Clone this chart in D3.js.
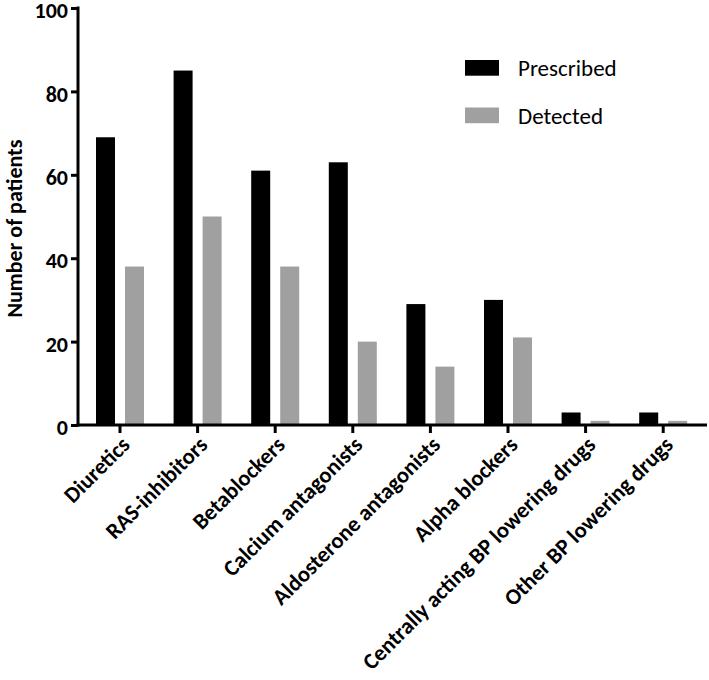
<!DOCTYPE html>
<html><head><meta charset="utf-8">
<script src="https://cdn.jsdelivr.net/npm/d3@7"></script>
<style>body{margin:0;background:#fff;} text{font-family:Carlito,Lato,"Open Sans",sans-serif;}</style>
</head><body><svg id="c" width="709" height="680"></svg>
<script>
const categories = ["Diuretics","RAS-inhibitors","Betablockers","Calcium antagonists","Aldosterone antagonists","Alpha blockers","Centrally acting BP lowering drugs","Other BP lowering drugs"];
const seriesNames = ["Prescribed","Detected"];
const prescribed = [69,85,61,63,29,30,3,3];
const detected = [38,50,38,20,14,21,1,1];
const yTicks = [0,20,40,60,80,100];
const colors = ["#000000","#a0a0a0"];

const svg = d3.select("#c");
const x0 = 78, y0 = 425;
const y = d3.scaleLinear().domain([0,100]).range([y0, 8]);
const x = d3.scaleBand().domain(categories).range([81.2, 702]).paddingInner(0).paddingOuter(0);
const bw = x.bandwidth();
const xs = d3.scaleBand().domain(seriesNames).range([bw/2-24, bw/2+24]).paddingInner(0.345);
const values = [prescribed, detected];

const g = svg.append("g");
seriesNames.forEach((s,si)=>{
  g.selectAll(".b"+si).data(categories).enter().append("rect")
    .attr("x", c=>x(c)+xs(s)).attr("width", xs.bandwidth())
    .attr("y", (c,i)=>y(values[si][i])).attr("height",(c,i)=>y0-y(values[si][i]))
    .attr("fill", colors[si]);
});

// y axis
const ya = svg.append("g").attr("transform",`translate(${x0},0)`)
  .call(d3.axisLeft(y).tickValues(yTicks).tickSize(7).tickPadding(3));
ya.select(".domain").attr("stroke","#000").attr("stroke-width",3).attr("d",`M0,${y(100)-1.5}V${y0+1.5}`);
ya.selectAll(".tick line").attr("stroke","#000").attr("stroke-width",3);
ya.selectAll(".tick text").attr("font-size",22).attr("font-weight","bold").attr("fill","#000")
  .style("font-family","Carlito,Lato,sans-serif").attr("dy","0.44em");

// x axis
const xa = svg.append("g").attr("transform",`translate(0,${y0})`)
  .call(d3.axisBottom(x).tickSize(8).tickPadding(4));
xa.select(".domain").attr("stroke","#000").attr("stroke-width",3).attr("d",`M${x0-1.5},0H707`);
xa.selectAll(".tick line").attr("stroke","#000").attr("stroke-width",3);
xa.selectAll(".tick text").attr("font-size",22.5).attr("font-weight","bold").attr("fill","#000")
  .style("font-family","Carlito,Lato,sans-serif")
  .attr("text-anchor","end").attr("dy","0.7em")
  .attr("transform","translate(0,10) rotate(-45)").attr("x",0).attr("y",0);

// y title
svg.append("text").attr("transform",`translate(22,${(y(100)+y0)/2+12}) rotate(-90)`)
  .attr("text-anchor","middle").attr("font-size",22).attr("font-weight","bold").text("Number of patients");

// legend
const lg = svg.append("g");
seriesNames.forEach((s,i)=>{
  lg.append("rect").attr("x",465).attr("y",60+i*47.5).attr("width",34).attr("height",15.7).attr("fill",colors[i]);
  lg.append("text").attr("x",518).attr("y",76+i*47.5).attr("font-size",23).attr("fill","#000").text(s);
});
</script></body></html>
